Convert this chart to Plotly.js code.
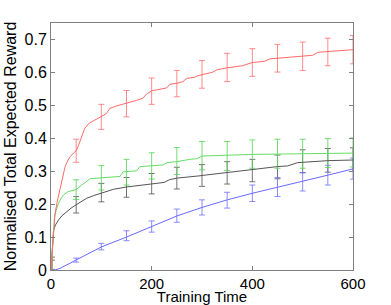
<!DOCTYPE html>
<html>
<head>
<meta charset="utf-8">
<script src="https://cdn.plot.ly/plotly-3.0.1.min.js"></script>
<style>html,body{margin:0;padding:0;background:#fff;}#chart{width:391px;height:305px;}</style>
</head>
<body>
<div id="chart"></div>
<script>
// Curves (x, y)
const redX   = [0, 2, 4, 6, 8, 12, 18, 24, 28, 34, 38, 45, 50, 55, 61, 67, 76, 88, 100, 110, 117, 130, 150, 170, 183, 190, 200, 215, 230, 236, 250, 262, 270, 285, 292, 300, 320, 330, 350, 380, 400, 425, 435, 450, 500, 520, 530, 550, 600];
const redY   = [0, 0.05, 0.10, 0.14, 0.17, 0.205, 0.243, 0.29, 0.314, 0.334, 0.344, 0.355, 0.362, 0.38, 0.405, 0.43, 0.446, 0.455, 0.466, 0.475, 0.491, 0.498, 0.506, 0.515, 0.522, 0.535, 0.544, 0.548, 0.553, 0.564, 0.567, 0.572, 0.582, 0.585, 0.59, 0.593, 0.6, 0.608, 0.614, 0.62, 0.63, 0.634, 0.641, 0.643, 0.648, 0.652, 0.661, 0.663, 0.669];

const greenX = [0, 2, 4, 7, 10, 15, 20, 25, 34, 50, 61, 74, 78, 100, 137, 143, 170, 177, 200, 223, 230, 250, 276, 290, 300, 350, 400, 450, 500, 550, 600];
const greenY = [0, 0.05, 0.10, 0.16, 0.18, 0.203, 0.218, 0.228, 0.238, 0.244, 0.258, 0.272, 0.277, 0.28, 0.284, 0.298, 0.301, 0.314, 0.317, 0.319, 0.326, 0.329, 0.336, 0.338, 0.346, 0.349, 0.351, 0.352, 0.353, 0.354, 0.355];

const grayX  = [0, 1, 2, 3, 5, 9, 15, 22, 31, 40, 50, 60, 71, 85, 100, 124, 150, 175, 200, 225, 235, 250, 296, 300, 350, 400, 450, 470, 490, 500, 550, 600];
const grayY  = [0, 0.03, 0.07, 0.10, 0.12, 0.137, 0.152, 0.165, 0.177, 0.188, 0.198, 0.208, 0.218, 0.226, 0.234, 0.245, 0.252, 0.257, 0.263, 0.266, 0.274, 0.279, 0.286, 0.287, 0.296, 0.306, 0.314, 0.316, 0.326, 0.327, 0.332, 0.334];

const blueX  = [0, 8, 18, 50, 100, 150, 200, 250, 300, 350, 400, 450, 500, 550, 600];
const blueY  = [0, 0, 0.005, 0.03, 0.07, 0.10, 0.132, 0.164, 0.19, 0.213, 0.233, 0.251, 0.268, 0.288, 0.307];

// Error bars (sample times, means, half-widths)
const barX      = [2, 50, 100, 150, 200, 250, 300, 350, 400, 450, 500, 550, 600];
const redMean   = [0.02, 0.362, 0.465, 0.505, 0.543, 0.566, 0.594, 0.615, 0.63, 0.643, 0.649, 0.662, 0.669];
const redErr    = [0.02, 0.035, 0.038, 0.04, 0.04, 0.04, 0.042, 0.043, 0.042, 0.042, 0.043, 0.042, 0.043];
const greenMean = [0.02, 0.244, 0.28, 0.297, 0.316, 0.331, 0.347, 0.346, 0.352, 0.353, 0.353, 0.355, 0.357];
const greenErr  = [0.018, 0.03, 0.037, 0.039, 0.04, 0.041, 0.043, 0.044, 0.043, 0.044, 0.044, 0.044, 0.044];
const grayMean  = [0.015, 0.198, 0.235, 0.251, 0.262, 0.279, 0.287, 0.295, 0.302, 0.313, 0.33, 0.333, 0.335];
const grayErr   = [0.015, 0.025, 0.028, 0.03, 0.031, 0.033, 0.033, 0.034, 0.034, 0.036, 0.035, 0.036, 0.036];
const blueMean  = [0, 0.03, 0.071, 0.104, 0.132, 0.165, 0.19, 0.212, 0.233, 0.252, 0.268, 0.288, 0.308];
const blueErr   = [0, 0.006, 0.01, 0.015, 0.017, 0.02, 0.023, 0.024, 0.025, 0.029, 0.028, 0.03, 0.032];

const xTicks = [0, 200, 400, 600];
const yTicks = [0, 0.1, 0.2, 0.3, 0.4, 0.5, 0.6, 0.7];
const yTickText = ['0', '0.1', '0.2', '0.3', '0.4', '0.5', '0.6', '0.7'];

function curve(x, y, color) {
  return {x: x, y: y, type: 'scatter', mode: 'lines', line: {color: color, width: 1}, hoverinfo: 'skip', showlegend: false};
}
function bars(x, y, e, color) {
  return {x: x, y: y, type: 'scatter', mode: 'markers', marker: {size: 1, opacity: 0},
    error_y: {type: 'data', array: e, visible: true, color: color, thickness: 1, width: 3},
    hoverinfo: 'skip', showlegend: false};
}

const data = [
  bars(barX, grayMean, grayErr, 'rgba(80,80,80,0.8)'),
  bars(barX, blueMean, blueErr, 'rgba(110,110,255,0.8)'),
  bars(barX, greenMean, greenErr, 'rgba(90,215,90,0.85)'),
  bars(barX, redMean, redErr, 'rgba(255,110,110,0.8)'),
  curve(blueX, blueY, '#6a6aff'),
  curve(grayX, grayY, '#555555'),
  curve(greenX, greenY, '#66dd66'),
  curve(redX, redY, '#ff6a6a')
];

const fontFam = 'Liberation Sans, Arial, sans-serif';
const axisCommon = {
  showline: true, linecolor: '#808080', linewidth: 1, mirror: 'ticks',
  ticks: 'inside', ticklen: 4, tickcolor: '#808080', tickwidth: 1,
  showgrid: false, zeroline: false,
  tickfont: {family: fontFam, size: 16, color: '#000'}
};

const layout = {
  width: 391, height: 305,
  margin: {l: 51, r: 38, t: 23, b: 35},
  paper_bgcolor: '#fff', plot_bgcolor: '#fff',
  xaxis: Object.assign({}, axisCommon, {
    range: [0, 600], tickmode: 'array', tickvals: xTicks, ticktext: xTicks.map(String),
    tickfont: {family: fontFam, size: 15, color: '#000'},
    ticklabelstandoff: 0,
    title: {text: 'Training Time', font: {family: fontFam, size: 15, color: '#000'}, standoff: 4}
  }),
  yaxis: Object.assign({}, axisCommon, {
    range: [0, 0.75], tickmode: 'array', tickvals: yTicks, ticktext: yTickText,
    title: {text: 'Normalised Total Expected Reward', font: {family: fontFam, size: 16, color: '#000'}, standoff: 3}
  })
};

Plotly.newPlot('chart', data, layout, {displayModeBar: false, staticPlot: true});
</script>
</body>
</html>
